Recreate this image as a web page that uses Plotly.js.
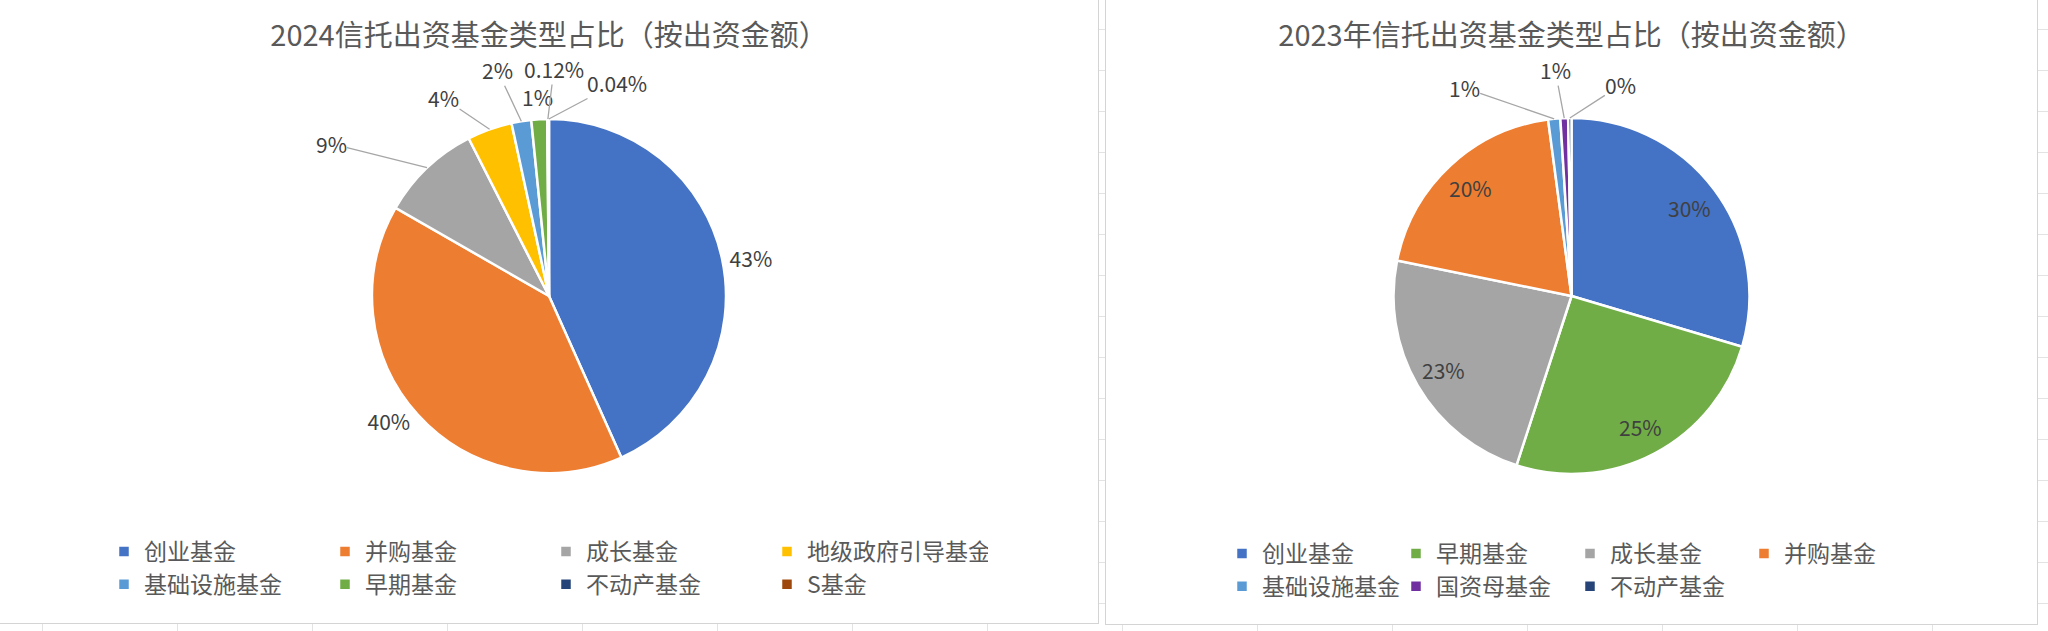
<!DOCTYPE html>
<html>
<head>
<meta charset="utf-8">
<script src="https://cdn.plot.ly/plotly-3.0.1.min.js"></script>
<style>
html,body{margin:0;padding:0;width:2048px;height:631px;overflow:hidden;}
body{
  background-color:#ffffff;
  background-image:linear-gradient(#e3e3e3 1px, transparent 1px),linear-gradient(90deg,#e3e3e3 1px, transparent 1px);
  background-size:135px 41px;
  background-position:42px 29px;
  font-family:"Noto Sans CJK SC",sans-serif;
}
.panel{position:absolute;border:1px solid #d4d4d4;background:#ffffff;}
#p1{left:-1px;top:-1px;width:1098px;height:623px;}
#p2{left:1105px;top:-1px;width:931px;height:624px;}
</style>
</head>
<body>
<div id="p1" class="panel"><div id="chart2024"></div></div>
<div id="p2" class="panel"><div id="chart2023"></div></div>
<script>
// ---- 2024 data ----
var title2024 = "2024信托出资基金类型占比（按出资金额）";
var categories2024 = ["创业基金","并购基金","成长基金","地级政府引导基金","基础设施基金","早期基金","不动产基金","S基金"];
var values2024 = [43.3, 40.0, 9.2, 4.1, 1.8, 1.44, 0.12, 0.04];
var labels2024 = ["43%","40%","9%","4%","2%","1%","0.12%","0.04%"];
var colors2024 = ["#4472C4","#ED7D31","#A5A5A5","#FFC000","#5B9BD5","#70AD47","#264478","#9E480E"];

// ---- 2023 data ----
var title2023 = "2023年信托出资基金类型占比（按出资金额）";
var categories2023 = ["创业基金","早期基金","成长基金","并购基金","基础设施基金","国资母基金","不动产基金"];
var values2023 = [29.6, 25.4, 23.2, 19.7, 1.1, 0.7, 0.3];
var labels2023 = ["30%","25%","23%","20%","1%","1%","0%"];
var colors2023 = ["#4472C4","#70AD47","#A5A5A5","#ED7D31","#5B9BD5","#7030A0","#264478"];

var FONT = '"Noto Sans CJK SC", "Noto Sans", sans-serif';
var LABEL_COLOR = '#404040';
var LEADER_COLOR = '#A6A6A6';
var cfg = {displayModeBar:false, staticPlot:true};

// label placement style (pixel offsets of the label from the slice edge, Excel-like "best fit")
var calloutStyle2024 = [
  null, null,
  {ax:-96, ay:-24, arrow:true},
  {ax:-46, ay:-31, arrow:true},
  {ax:-24, ay:-51, arrow:true},
  {ax:-2,  ay:-22, arrow:false},
  {ax:6,   ay:-50, arrow:true},
  {ax:68,  ay:-36, arrow:true}
];
var textpos2024 = ["outside","outside","none","none","none","none","none","none"];

var calloutStyle2023 = [
  {inside:0.83}, {inside:0.83}, {inside:0.83}, {inside:0.83},
  {ax:-90, ay:-31, arrow:true},
  {ax:-9,  ay:-48, arrow:true},
  {ax:51,  ay:-33, arrow:true}
];
var textpos2023 = ["none","none","none","none","none","none","none"];

function midAngles(vals){
  var tot = vals.reduce(function(a,b){return a+b;},0), cum = 0;
  return vals.map(function(v){ var m = (cum + v/2)/tot*2*Math.PI; cum += v; return m; });
}

function buildAnnotations(vals, txt, styles, geo){
  var mids = midAngles(vals), anns = [];
  mids.forEach(function(th, i){
    var s = styles[i]; if(!s) return;
    var rr = s.inside ? geo.r*s.inside : geo.r;
    var x = geo.cx + rr*Math.sin(th)/geo.gw;
    var y = geo.cy + rr*Math.cos(th)/geo.gh;
    var a = {xref:'paper', yref:'paper', x:x, y:y, text:txt[i],
             font:{family:FONT, size:21, color:LABEL_COLOR}, borderpad:0};
    if(s.inside){
      a.showarrow = false; a.xanchor = 'center'; a.yanchor = 'middle';
    } else if(s.arrow){
      a.showarrow = true; a.ax = s.ax; a.ay = s.ay; a.arrowhead = 0;
      a.arrowwidth = 1.3; a.arrowcolor = LEADER_COLOR; a.standoff = 0;
    } else {
      a.showarrow = false; a.xanchor = 'center'; a.yanchor = 'middle';
      a.xshift = s.ax; a.yshift = -s.ay;
    }
    anns.push(a);
  });
  return anns;
}

function pieTrace(cats, vals, txt, cols, tpos, dom){
  return {
    type:'pie',
    labels:cats, values:vals, text:txt,
    texttemplate:'%{text}',
    textinfo:'text',
    textposition:tpos,
    insidetextorientation:'horizontal',
    sort:false, direction:'clockwise', rotation:0,
    marker:{colors:cols, line:{color:'#ffffff', width:2.5}},
    outsidetextfont:{family:FONT, size:21, color:LABEL_COLOR},
    insidetextfont:{family:FONT, size:21, color:LABEL_COLOR},
    domain:dom,
    hoverinfo:'skip'
  };
}

function layoutFor(w, h, titleText, mlr, legX, legY, entryW, anns){
  return {
    width:w, height:h,
    margin:{l:mlr, r:mlr, t:0, b:0, pad:0},
    paper_bgcolor:'rgba(0,0,0,0)',
    plot_bgcolor:'rgba(0,0,0,0)',
    font:{family:FONT, color:'#595959'},
    title:{text:titleText, x:0.5, xanchor:'center', xref:'container',
           y:1-36/h, yanchor:'middle', yref:'container',
           font:{family:FONT, size:29, color:'#595959'}},
    showlegend:true,
    legend:{orientation:'h', x:legX, xanchor:'left', y:legY, yanchor:'top',
            entrywidth:entryW, entrywidthmode:'pixels',
            font:{family:FONT, size:23, color:'#595959'},
            bgcolor:'rgba(0,0,0,0)', traceorder:'normal'},
    annotations:anns
  };
}

// left chart
var h1 = 623, w1 = 1098, m1 = 60;
var dom1 = {x:[0,1], y:[1-473/h1, 1-119/h1]};
var geo1 = {cx:0.5, cy:(dom1.y[0]+dom1.y[1])/2, r:Math.min(w1-2*m1, (dom1.y[1]-dom1.y[0])*h1)/2, gw:w1-2*m1, gh:h1};
Plotly.newPlot('chart2024',
  [pieTrace(categories2024, values2024, labels2024, colors2024, textpos2024, dom1)],
  layoutFor(w1, h1, title2024, m1, (104-m1)/(w1-2*m1), 1-530/h1, 176,
            buildAnnotations(values2024, labels2024, calloutStyle2024, geo1)),
  cfg);

// right chart
var h2 = 624, w2 = 931, m2 = 80;
var dom2 = {x:[0,1], y:[1-474/h2, 1-118/h2]};
var geo2 = {cx:0.5, cy:(dom2.y[0]+dom2.y[1])/2, r:Math.min(w2-2*m2, (dom2.y[1]-dom2.y[0])*h2)/2, gw:w2-2*m2, gh:h2};
Plotly.newPlot('chart2023',
  [pieTrace(categories2023, values2023, labels2023, colors2023, textpos2023, dom2)],
  layoutFor(w2, h2, title2023, m2, (116-m2)/(w2-2*m2), 1-532/h2, 129,
            buildAnnotations(values2023, labels2023, calloutStyle2023, geo2)),
  cfg);
</script>
</body>
</html>
